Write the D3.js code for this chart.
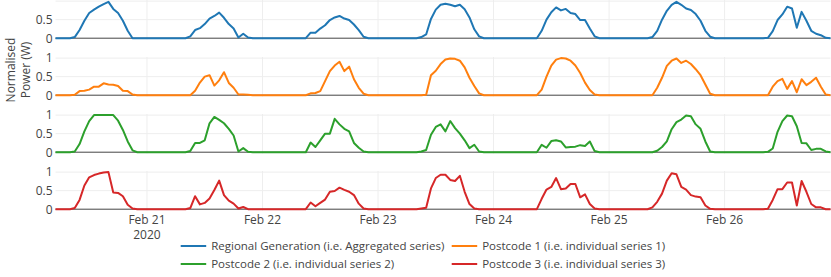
<!DOCTYPE html>
<html>
<head>
<meta charset="utf-8">
<script src="https://cdn.jsdelivr.net/npm/d3@7"></script>
<style>
body { margin: 0; background: #fff; }
svg text { font-family: "Open Sans", verdana, arial, sans-serif; fill: #444; }
</style>
</head>
<body>
<div class="power-chart"></div>
<script>
// series names / colours (plotly defaults)
const seriesNames = [
    'Regional Generation (i.e. Aggregated series)',
    'Postcode 1 (i.e. individual series 1)',
    'Postcode 2 (i.e. individual series 2)',
    'Postcode 3 (i.e. individual series 3)'
];
const seriesColors = ['#1f77b4', '#ff7f0e', '#2ca02c', '#d62728'];

// hourly readings, first one is 2020-02-20 05:00, last one 2020-02-26 22:00
const startTime = Date.UTC(2020, 1, 20, 5);

const regional = [
    0,0,0, 0,0.03,0.22,0.47,0.68,0.77,0.85,0.92,0.98,0.79,0.68,0.47,0.2,0,0, 0,
    0,0,0,0,0,0,0,0, 0,0.05,0.22,0.27,0.38,0.53,0.6,0.69,0.55,0.38,0.26,0.02,0.12,0.02,0, 0,
    0,0,0,0,0,0,0,0, 0,0,0.15,0.15,0.26,0.35,0.49,0.56,0.6,0.53,0.49,0.37,0.22,0.04,0, 0,
    0,0,0,0,0,0,0,0, 0,0.03,0.1,0.52,0.77,0.9,0.93,0.9,0.86,0.9,0.78,0.56,0.24,0.05,0, 0,
    0,0,0,0,0,0,0,0, 0,0,0.2,0.5,0.7,0.83,0.75,0.79,0.68,0.65,0.49,0.49,0.26,0.05,0, 0,
    0,0,0,0,0,0,0,0, 0,0.03,0.2,0.5,0.74,0.9,0.98,0.9,0.8,0.76,0.65,0.47,0.2,0.04,0, 0,
    0,0,0,0,0,0,0,0, 0,0.01,0.19,0.49,0.64,0.85,0.8,0.28,0.71,0.47,0.2,0.12,0.08,0.01,0
];
const postcode1 = [
    0,0,0, 0,0.01,0.11,0.12,0.15,0.23,0.23,0.32,0.29,0.28,0.25,0.12,0.11,0.02,0, 0,
    0,0,0,0,0,0,0,0, 0,0,0.12,0.34,0.5,0.54,0.26,0.4,0.62,0.33,0.2,0.02,0.02,0.01,0, 0,
    0,0,0,0,0,0,0,0, 0,0,0.05,0.06,0.11,0.38,0.65,0.8,0.9,0.65,0.77,0.43,0.2,0.04,0, 0,
    0,0,0,0,0,0,0,0, 0,0,0.01,0.54,0.66,0.84,0.96,0.99,0.98,0.93,0.75,0.47,0.25,0.05,0, 0,
    0,0,0,0,0,0,0,0, 0,0,0.15,0.5,0.8,0.96,1,0.99,0.93,0.8,0.6,0.34,0.14,0.02,0, 0,
    0,0,0,0,0,0,0,0, 0,0,0.2,0.47,0.79,0.93,0.99,0.87,0.93,0.84,0.7,0.54,0.29,0.04,0, 0,
    0,0,0,0,0,0,0,0, 0,0,0.23,0.38,0.44,0.17,0.38,0.08,0.43,0.27,0.36,0.47,0.23,0.02,0
];
const postcode2 = [
    0,0,0, 0,0.02,0.22,0.56,0.84,1,1,1,1,1,0.85,0.6,0.29,0.05,0, 0,
    0,0,0,0,0,0,0,0, 0,0.03,0.25,0.25,0.32,0.78,0.95,0.87,0.78,0.63,0.45,0.02,0.11,0.01,0, 0,
    0,0,0,0,0,0,0,0, 0,0,0.26,0.14,0.32,0.5,0.5,0.9,0.75,0.63,0.56,0.25,0.12,0.02,0, 0,
    0,0,0,0,0,0,0,0, 0,0.02,0.06,0.47,0.68,0.75,0.56,0.84,0.65,0.5,0.32,0.11,0.2,0.02,0, 0,
    0,0,0,0,0,0,0,0, 0,0,0.2,0.12,0.3,0.32,0.29,0.13,0.14,0.15,0.19,0.17,0.29,0.03,0, 0,
    0,0,0,0,0,0,0,0, 0,0,0.04,0.14,0.29,0.62,0.81,0.88,0.99,0.97,0.75,0.63,0.29,0.02,0, 0,
    0,0,0,0,0,0,0,0, 0,0.01,0.1,0.55,0.84,0.99,0.97,0.7,0.25,0.24,0.06,0.09,0.09,0.02,0
];
const postcode3 = [
    0,0,0, 0,0.03,0.25,0.64,0.86,0.92,0.96,0.99,1,0.45,0.44,0.35,0.12,0.02,0, 0,
    0,0,0,0,0,0,0,0, 0,0.03,0.35,0.13,0.17,0.29,0.52,0.77,0.38,0.23,0.15,0.02,0.06,0,0, 0,
    0,0,0,0,0,0,0,0, 0,0,0.18,0.08,0.17,0.26,0.47,0.49,0.58,0.52,0.47,0.38,0.15,0.02,0, 0,
    0,0,0,0,0,0,0,0, 0,0.02,0.04,0.56,0.84,0.93,0.93,0.79,0.76,0.9,0.47,0.14,0.02,0,0, 0,
    0,0,0,0,0,0,0,0, 0,0,0.28,0.53,0.6,0.84,0.54,0.56,0.68,0.68,0.32,0.4,0.14,0.02,0, 0,
    0,0,0,0,0,0,0,0, 0,0.05,0.2,0.42,0.77,0.97,0.94,0.6,0.53,0.38,0.34,0.32,0.1,0.01,0, 0,
    0,0,0,0,0,0,0,0, 0,0.01,0.25,0.54,0.54,0.72,0.72,0.1,0.76,0.47,0.14,0.05,0.05,0,0
];

// ticks
const dayTicks = ['2020-02-21', '2020-02-22', '2020-02-23', '2020-02-24', '2020-02-25', '2020-02-26'];
const yTicks = [0, 0.5, 1];
const yTickLabels = [[0, 0.5], [0, 0.5, 1], [0, 0.5, 1], [0, 0.5, 1]];

const series = [regional, postcode1, postcode2, postcode3].map((vals, i) => ({
    name: seriesNames[i],
    color: seriesColors[i],
    values: vals.map((v, j) => ({ time: new Date(startTime + j * 3600e3), value: v }))
}));

const svg_width = 831;
const svg_height = 277;
const plot_left = 55.5;
const plot_right = 830.5;
const panel_height = 39.5;
const panel_step = 57;

const svg = d3.select('.power-chart').append('svg')
    .attr('width', svg_width).attr('height', svg_height);

const xScale = d3.scaleUtc()
    .domain(d3.extent(series[0].values, d => d.time))
    .range([plot_left, plot_right]);
// autorange-ish padding around 0..1
const yScale = d3.scaleLinear().domain([-0.035, 1.03]).range([panel_height, 0]);
const tickDates = dayTicks.map(d => new Date(d + 'T00:00:00Z'));

const line = d3.line().x(d => xScale(d.time)).y(d => yScale(d.value));

series.forEach((s, i) => {
    const panel = svg.append('g').attr('class', 'panel')
        .attr('transform', `translate(0,${i * panel_step})`);

    // vertical grid
    panel.selectAll('.xgrid').data(tickDates).enter().append('line')
        .attr('class', 'xgrid')
        .attr('x1', d => xScale(d)).attr('x2', d => xScale(d))
        .attr('y1', 0).attr('y2', panel_height)
        .style('stroke', '#eee').style('stroke-width', 1);
    // horizontal grid
    panel.selectAll('.ygrid').data(yTicks.filter(d => d !== 0)).enter().append('line')
        .attr('class', 'ygrid')
        .attr('x1', plot_left).attr('x2', plot_right)
        .attr('y1', d => yScale(d)).attr('y2', d => yScale(d))
        .style('stroke', '#eee').style('stroke-width', 1);
    // zero line
    panel.append('line')
        .attr('x1', plot_left).attr('x2', plot_right)
        .attr('y1', yScale(0)).attr('y2', yScale(0))
        .style('stroke', '#444').style('stroke-width', 1);

    const yAxis = d3.axisLeft(yScale).tickValues(yTickLabels[i]).tickSize(0).tickPadding(3)
        .tickFormat(d3.format('~g'));
    const yAxisDraw = panel.append('g').attr('class', 'y axis')
        .attr('transform', `translate(${plot_left},0)`).call(yAxis);
    yAxisDraw.select('.domain').remove();
    yAxisDraw.selectAll('text').style('font-size', '12px')
        .style('font-family', '"Open Sans", verdana, arial, sans-serif').style('fill', '#444');

    panel.append('path').datum(s.values)
        .attr('d', line)
        .style('fill', 'none')
        .style('stroke', s.color)
        .style('stroke-width', 2)
        .style('stroke-linejoin', 'round');
});

// x axis labels under the last panel (first one carries the year on a 2nd line)
const xAxisG = svg.append('g').attr('class', 'x axis');
const xLabels = xAxisG.selectAll('.xlabel').data(tickDates).enter().append('text')
    .attr('class', 'xlabel')
    .attr('y', 223.5)
    .attr('text-anchor', 'middle')
    .style('font-size', '12px');
xLabels.append('tspan')
    .attr('x', d => xScale(d))
    .text(d3.utcFormat('%b %d'));
xLabels.filter((d, i) => i === 0).append('tspan')
    .attr('x', d => xScale(d)).attr('dy', 15)
    .text(d3.utcFormat('%Y'));

// y title
const yTitle = svg.append('text')
    .attr('transform', 'rotate(-90)')
    .attr('text-anchor', 'middle')
    .style('font-size', '12px');
yTitle.append('tspan').attr('x', -70).attr('y', 15).text('Normalised');
yTitle.append('tspan').attr('x', -70).attr('y', 29.5).text('Power (W)');

// legend, 2 columns
const legendCols = [180.7, 451.7];
const legendRows = [246, 264];
const legend = svg.selectAll('.legend-item').data(series).enter().append('g')
    .attr('class', 'legend-item')
    .attr('transform', (d, i) => `translate(${legendCols[i % 2]},${legendRows[Math.floor(i / 2)]})`);
legend.append('line')
    .attr('x1', 0).attr('x2', 25.5).attr('y1', 0).attr('y2', 0)
    .style('stroke', d => d.color).style('stroke-width', 2);
legend.append('text')
    .attr('x', 30.5).attr('y', 4.1)
    .style('font-size', '11.5px')
    .text(d => d.name);
</script>
</body>
</html>
